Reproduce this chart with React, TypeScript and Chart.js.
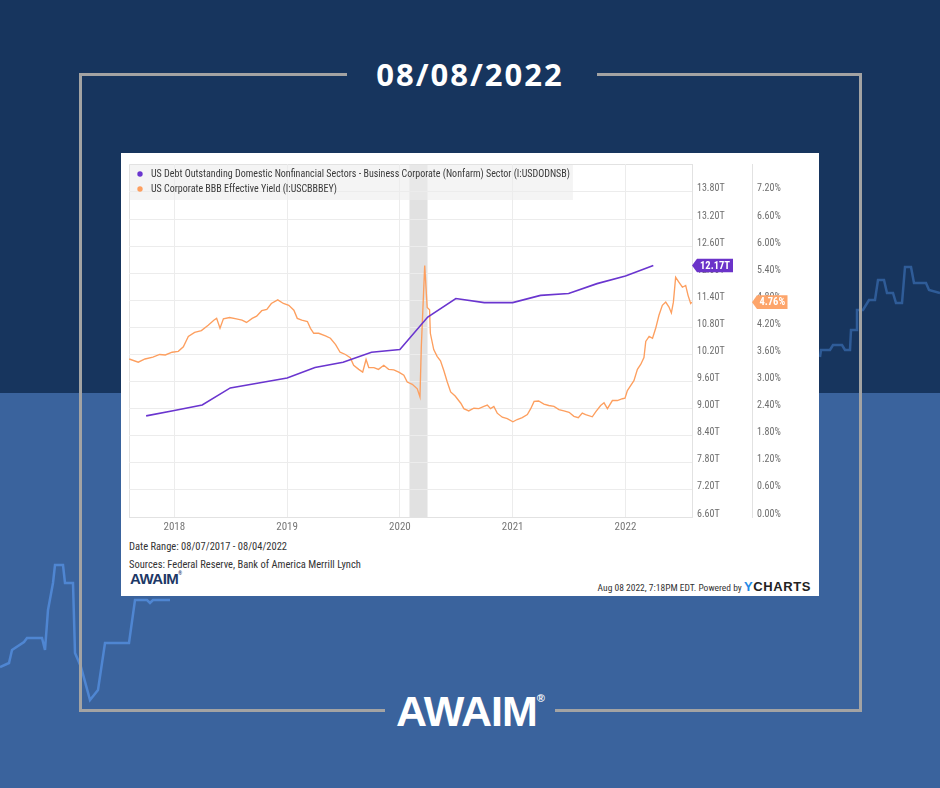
import React, { useEffect, useRef } from "react";
import { Chart, registerables } from "chart.js";

Chart.register(...registerables);

const FONT = '"Liberation Sans Narrow", "Roboto Condensed", "Arial Narrow", Roboto, sans-serif';

// ---------- data ----------
const debtLabel =
  "US Debt Outstanding Domestic Nonfinancial Sectors - Business Corporate (Nonfarm) Sector (I:USDODNSB)";
const yieldLabel = "US Corporate BBB Effective Yield (I:USCBBBEY)";

// quarterly, decimal years
const debtDates = [
  2017.75, 2018.0, 2018.247, 2018.496, 2018.748, 2019.0, 2019.247, 2019.496, 2019.748, 2020.0,
  2020.247, 2020.496, 2020.748, 2021.0, 2021.247, 2021.496, 2021.748, 2022.0, 2022.247,
];
// trillions USD
const debtValues = [
  8.84, 8.96, 9.08, 9.46, 9.57, 9.68, 9.91, 10.03, 10.25, 10.31, 11.03, 11.44, 11.35, 11.35, 11.51,
  11.55, 11.77, 11.94, 12.17,
];

const yieldDates = [
  2017.6, 2017.68, 2017.74, 2017.81, 2017.87, 2017.92, 2017.98, 2018.035, 2018.08, 2018.124, 2018.18,
  2018.24, 2018.3, 2018.35, 2018.375, 2018.405, 2018.435, 2018.49, 2018.55, 2018.6, 2018.64, 2018.69,
  2018.73, 2018.775, 2018.82, 2018.86, 2018.917, 2018.967,
  2019.015, 2019.06, 2019.09, 2019.13, 2019.18, 2019.207, 2019.236, 2019.28, 2019.34, 2019.384,
  2019.43, 2019.47, 2019.517, 2019.56, 2019.59, 2019.635, 2019.67, 2019.7, 2019.724, 2019.77,
  2019.81, 2019.857, 2019.9, 2019.946, 2019.99, 2020.035, 2020.065, 2020.11, 2020.154, 2020.178,
  2020.19, 2020.22,
  2020.242, 2020.263, 2020.27, 2020.3, 2020.33, 2020.36, 2020.39, 2020.42, 2020.45, 2020.49,
  2020.54, 2020.567, 2020.61, 2020.656, 2020.7, 2020.745, 2020.775, 2020.804, 2020.833, 2020.863,
  2020.908, 2020.952, 2021.002, 2021.04, 2021.085, 2021.13, 2021.16, 2021.19, 2021.23, 2021.277,
  2021.32, 2021.366, 2021.41, 2021.454, 2021.5, 2021.543, 2021.582, 2021.617,
  2021.647, 2021.706, 2021.736, 2021.78, 2021.81, 2021.84, 2021.884, 2021.928, 2021.973, 2021.996,
  2022.017, 2022.046, 2022.075, 2022.106, 2022.135, 2022.164, 2022.18, 2022.21, 2022.24, 2022.268,
  2022.297, 2022.327, 2022.357, 2022.386, 2022.407, 2022.425, 2022.445, 2022.475, 2022.505, 2022.534,
  2022.555, 2022.578, 2022.588,
];
// percent
const yieldValues = [
  3.5, 3.43, 3.5, 3.54, 3.6, 3.59, 3.65, 3.67, 3.77, 4.0, 4.09, 4.13, 4.25, 4.36, 4.4, 4.18, 4.39,
  4.42, 4.39, 4.36, 4.31, 4.4, 4.45, 4.57, 4.6, 4.73, 4.81, 4.73,
  4.69, 4.58, 4.4, 4.36, 4.33, 4.18, 4.07, 4.07, 4.01, 3.96, 3.82, 3.65, 3.6, 3.53, 3.36, 3.27,
  3.21, 3.49, 3.31, 3.31, 3.27, 3.36, 3.27, 3.26, 3.21, 3.14, 2.99, 2.94, 2.84, 2.66, 3.78, 5.57,
  4.64, 4.59, 4.07, 3.71, 3.56, 3.46, 3.24, 2.99, 2.77, 2.68, 2.52, 2.4, 2.35, 2.41, 2.4, 2.45,
  2.48, 2.4, 2.45, 2.3, 2.21, 2.18, 2.11, 2.16, 2.2, 2.27, 2.4, 2.56, 2.57, 2.5, 2.47, 2.45, 2.38,
  2.35, 2.32, 2.23, 2.2, 2.3,
  2.27, 2.22, 2.33, 2.47, 2.53, 2.4, 2.58, 2.58, 2.62, 2.63, 2.8, 2.91, 3.02, 3.27, 3.38, 3.53,
  3.89, 4.0, 3.96, 4.18, 4.47, 4.69, 4.76, 4.65, 4.52, 4.76, 5.31, 5.2, 5.09, 5.13, 4.91, 4.73, 4.76,
];

const yearTicks = [2018, 2019, 2020, 2021, 2022];
const debtTicks = [6.6, 7.2, 7.8, 8.4, 9.0, 9.6, 10.2, 10.8, 11.4, 12.0, 12.6, 13.2, 13.8];
const yieldTicks = [0, 0.6, 1.2, 1.8, 2.4, 3.0, 3.6, 4.2, 4.8, 5.4, 6.0, 6.6, 7.2];
const recessions = [[2020.085, 2020.245]];
const dateRange = [2017.598, 2022.59];

const titleText = "08/08/2022";
const dateRangeText = "Date Range: 08/07/2017 - 08/04/2022";
const sourcesText = "Sources: Federal Reserve, Bank of America Merrill Lynch";
const stampText = "Aug 08 2022, 7:18PM EDT. Powered by";

// ---------- styles ----------
const PURPLE = "#6a35cf";
const ORANGE = "#fd9f5f";
const GRID = "#ececec";
const EDGE = "#e2e2e2";

// decorative background steps (not data)
const decoLeft =
  "0,667 9,663 12,650 24,642 27,638 42,638 45,650 48,610 53,583 55,565 63,565 65,583 73,583 75,653 81,667 90,700 98,690 105,643 129,643 135,600 147,600 150,603 153,600 170,600";
const decoRight =
  "820,357 821,350 830,350 833,345 842,345 845,350 850,350 851,330 857,330 857,310 863,310 869,300 875,300 878,280 884,280 887,293 893,293 896,303 902,303 905,267 911,267 914,283 926,283 929,290 940,293";

function makeDot(color: string) {
  const c = document.createElement("canvas");
  c.width = 6;
  c.height = 6;
  const g = c.getContext("2d")!;
  g.fillStyle = color;
  g.beginPath();
  g.arc(3, 3, 2.7, 0, Math.PI * 2);
  g.fill();
  return c;
}

function drawFlag(ctx: CanvasRenderingContext2D, x: number, y: number, w: number, color: string, text: string) {
  const h = 6.8;
  ctx.save();
  ctx.fillStyle = color;
  ctx.beginPath();
  ctx.moveTo(x, y);
  ctx.lineTo(x + 5, y - h);
  ctx.lineTo(x + w, y - h);
  ctx.lineTo(x + w, y + h);
  ctx.lineTo(x + 5, y + h);
  ctx.closePath();
  ctx.fill();
  ctx.fillStyle = "#ffffff";
  ctx.font = `bold 10.5px ${FONT}`;
  ctx.textAlign = "center";
  ctx.textBaseline = "middle";
  ctx.fillText(text, x + 5 + (w - 5) / 2, y + 0.5);
  ctx.restore();
}

const LEGEND_PAD = 5;
const LEGEND_ITEM_H = 10;

const decorPlugin = {
  id: "decor",
  afterLayout(chart: any) {
    const lg = chart.legend;
    const a = chart.chartArea;
    if (lg && a) {
      const h = lg.height;
      lg.top = a.top;
      lg.bottom = a.top + h;
    }
  },
  beforeDraw(chart: any) {
    const { ctx, chartArea: a, scales } = chart;
    const xs = scales.x;
    ctx.save();
    ctx.fillStyle = "#e1e1e1";
    for (const [s, e] of recessions) {
      const x0 = xs.getPixelForValue(s);
      const x1 = xs.getPixelForValue(e);
      ctx.fillRect(x0, a.top, x1 - x0, a.bottom - a.top);
    }
    const lg = chart.legend;
    if (lg) {
      const n = chart.data.datasets.length;
      const colW = lg.columnSizes && lg.columnSizes.length ? lg.columnSizes[0].width : 430;
      const w = colW + LEGEND_PAD * 2 - 2;
      const h = LEGEND_PAD + n * (LEGEND_ITEM_H + LEGEND_PAD) + 1;
      ctx.fillStyle = "rgba(236,236,236,0.6)";
      ctx.fillRect(a.left, a.top, w, h);
    }
    ctx.strokeStyle = EDGE;
    ctx.lineWidth = 1;
    ctx.beginPath();
    ctx.moveTo(a.left + 0.5, a.bottom);
    ctx.lineTo(a.left + 0.5, a.top + 0.5);
    ctx.lineTo(a.right, a.top + 0.5);
    ctx.stroke();
    ctx.restore();
  },
  afterDraw(chart: any) {
    const { ctx, scales } = chart;
    const lastDebt = debtValues[debtValues.length - 1];
    const lastYield = yieldValues[yieldValues.length - 1];
    drawFlag(ctx, scales.yT.left, scales.yT.getPixelForValue(lastDebt), 41, "#6b33c9", lastDebt.toFixed(2) + "T");
    drawFlag(ctx, scales.yP.left, scales.yP.getPixelForValue(lastYield), 35.5, "#fda56b", lastYield.toFixed(2) + "%");
  },
};

export default function App() {
  const ref = useRef<HTMLCanvasElement>(null);

  useEffect(() => {
    if (!ref.current) return;
    Chart.defaults.font.family = FONT;
    const chart = new Chart(ref.current, {
      type: "line",
      data: {
        datasets: [
          {
            label: debtLabel,
            data: debtDates.map((d, i) => ({ x: d, y: debtValues[i] })),
            yAxisID: "yT",
            borderColor: PURPLE,
            backgroundColor: PURPLE,
            borderWidth: 1.6,
            pointRadius: 0,
            pointStyle: makeDot(PURPLE) as any,
            tension: 0,
          },
          {
            label: yieldLabel,
            data: yieldDates.map((d, i) => ({ x: d, y: yieldValues[i] })),
            yAxisID: "yP",
            borderColor: ORANGE,
            backgroundColor: ORANGE,
            borderWidth: 1.35,
            pointRadius: 0,
            pointStyle: makeDot(ORANGE) as any,
            tension: 0,
          },
        ],
      },
      options: {
        animation: false,
        responsive: true,
        maintainAspectRatio: false,
        layout: { padding: { top: 8, left: 8, right: 0, bottom: 0 } },
        plugins: {
          legend: {
            position: "chartArea" as any,
            align: "start",
            labels: {
              usePointStyle: true,
              pointStyleWidth: 12,
              boxHeight: 6,
              padding: LEGEND_PAD,
              color: "#3a3a3a",
              font: { size: LEGEND_ITEM_H, family: FONT },
            },
          },
          tooltip: { enabled: false },
        },
        scales: {
          x: {
            type: "linear",
            min: dateRange[0],
            max: dateRange[1],
            afterBuildTicks: (s: any) => {
              s.ticks = yearTicks.map((v) => ({ value: v }));
            },
            afterFit: (s: any) => {
              s.height = 20;
            },
            grid: { color: GRID, drawTicks: false },
            border: { color: EDGE },
            ticks: {
              padding: 4,
              color: "#777",
              font: { size: 11, family: FONT },
              callback: (v: any) => String(v),
            },
          },
          yT: {
            type: "linear",
            position: "right",
            weight: 0,
            min: 6.6,
            max: 14.42,
            afterBuildTicks: (s: any) => {
              s.ticks = debtTicks.map((v) => ({ value: v }));
            },
            afterFit: (s: any) => {
              s.width = 60;
            },
            grid: { color: GRID, drawTicks: false },
            border: { color: EDGE },
            ticks: {
              padding: 5,
              labelOffset: -3,
              color: "#6e6e6e",
              font: { size: 10, family: FONT },
              callback: (v: any) => Number(v).toFixed(2) + "T",
            },
          },
          yP: {
            type: "linear",
            position: "right",
            weight: 1,
            min: 0,
            max: 7.82,
            afterBuildTicks: (s: any) => {
              s.ticks = yieldTicks.map((v) => ({ value: v }));
            },
            afterFit: (s: any) => {
              s.width = 67;
            },
            grid: { display: false, drawTicks: false },
            border: { display: true, color: EDGE },
            ticks: {
              padding: 5,
              labelOffset: -3,
              color: "#6e6e6e",
              font: { size: 10, family: FONT },
              callback: (v: any) => Number(v).toFixed(2) + "%",
            },
          },
        },
      } as any,
      plugins: [decorPlugin],
    });
    return () => chart.destroy();
  }, []);

  const frame = "#a3a3a3";
  const line = (l: number, t: number, w: number, h: number) => (
    <div style={{ position: "absolute", left: l, top: t, width: w, height: h, background: frame }} />
  );

  return (
    <div
      style={{
        position: "relative",
        width: 940,
        height: 788,
        overflow: "hidden",
        background: "linear-gradient(to bottom, #17355e 0px, #17355e 393px, #3a639d 393px, #3a639d 788px)",
        fontFamily: FONT,
      }}
    >
      <style>{"body{margin:0}"}</style>
      <svg width={940} height={788} style={{ position: "absolute", left: 0, top: 0 }}>
        <polyline points={decoLeft} fill="none" stroke="#4f86d2" strokeWidth={2.5} />
        <polyline points={decoRight} fill="none" stroke="#2f5c98" strokeWidth={2.5} />
      </svg>
      {line(79, 73, 268, 3)}
      {line(597, 73, 265, 3)}
      {line(79, 73, 3, 639)}
      {line(859, 73, 3, 639)}
      {line(79, 709, 306, 3)}
      {line(555, 709, 307, 3)}
      <div
        style={{
          position: "absolute",
          left: 0,
          top: 53,
          width: 940,
          textAlign: "center",
          color: "#ffffff",
          fontFamily: '"Open Sans", "Noto Sans", sans-serif',
          fontWeight: 700,
          fontSize: 31,
          letterSpacing: 2,
          lineHeight: "42px",
        }}
      >
        {titleText}
      </div>

      <div
        style={{
          position: "absolute",
          left: 121,
          top: 153,
          width: 698,
          height: 443,
          background: "#ffffff",
        }}
      >
        <div style={{ position: "absolute", left: 0, top: 0, width: 698, height: 384 }}>
          <canvas ref={ref} />
        </div>
        <div style={{ position: "absolute", left: 8, top: 387, fontSize: 10.5, color: "#333", whiteSpace: "nowrap" }}>
          {dateRangeText}
        </div>
        <div style={{ position: "absolute", left: 8, top: 405, fontSize: 10.5, color: "#333", whiteSpace: "nowrap" }}>
          {sourcesText}
        </div>
        <div
          style={{
            position: "absolute",
            left: 9,
            top: 417,
            fontSize: 15,
            fontWeight: 700,
            color: "#1d3866",
            fontFamily: '"Liberation Sans", Arial, sans-serif',
            letterSpacing: -0.5,
            whiteSpace: "nowrap",
          }}
        >
          AWAIM<span style={{ fontSize: 5, verticalAlign: "top" }}>®</span>
        </div>
        <div
          style={{
            position: "absolute",
            right: 8,
            top: 426,
            whiteSpace: "nowrap",
            color: "#333",
            fontSize: 9.5,
          }}
        >
          {stampText}{" "}
          <span style={{ fontSize: 13, fontWeight: 700, letterSpacing: 0.6, fontFamily: '"Liberation Sans", Arial, sans-serif' }}>
            <span style={{ color: "#1f8ae6" }}>Y</span>
            <span style={{ color: "#222" }}>CHARTS</span>
          </span>
        </div>
      </div>

      <div
        style={{
          position: "absolute",
          left: 0,
          top: 686,
          width: 940,
          textAlign: "center",
          color: "#ffffff",
          fontFamily: '"Liberation Sans", Arial, sans-serif',
          fontWeight: 700,
          fontSize: 43,
          letterSpacing: -1,
          lineHeight: "50px",
        }}
      >
        AWAIM<span style={{ fontSize: 11, verticalAlign: "top", lineHeight: "24px" }}>®</span>
      </div>
    </div>
  );
}
